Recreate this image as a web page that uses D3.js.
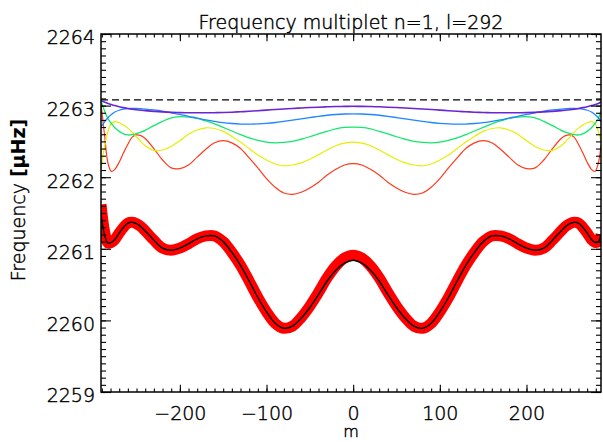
<!DOCTYPE html>
<html><head><meta charset="utf-8">
<script src="https://cdn.jsdelivr.net/npm/d3@7"></script>
<style>
html,body{margin:0;padding:0;background:#fff;}
svg{display:block;}
text{font-family:"DejaVu Sans",sans-serif;fill:#000;}
</style></head>
<body>
<svg id="chart" width="603" height="442"></svg>
<script>
// ---- data ----
const titleText = "Frequency multiplet n=1, l=292";
const xLabel = "m";
const xTickValues = [-200, -100, 0, 100, 200];
const yTickValues = [2259, 2260, 2261, 2262, 2263, 2264];
const xDomain = [-291, 286];
const yDomain = [2259, 2264];
const refLevel = 2263.08;

const mGrid = [-291,-287,-283,-279,-275,-270,-265,-260,-255,-250,-245,-240,-230,-220,-210,-200,-190,-180,-170,-160,-150,-140,-130,-120,-110,-100,-90,-80,-70,-60,-50,-40,-30,-20,-10,
  0,
  10,20,30,40,50,60,70,80,90,100,110,120,130,140,150,160,170,180,190,200,210,220,230,240,245,250,255,260,265,270,275,279,283,286];

const purple = [2263.07,2263.05,2263.03,2263.015,2263.0,2262.985,2262.972,2262.96,2262.95,2262.942,2262.935,2262.93,2262.92,2262.912,2262.906,2262.902,2262.9,2262.9,2262.9,2262.901,2262.904,2262.908,2262.914,2262.921,2262.929,2262.937,2262.945,2262.953,2262.96,2262.967,2262.973,2262.978,2262.983,2262.987,2262.989,
  2262.99,
  2262.989,2262.987,2262.983,2262.978,2262.973,2262.967,2262.96,2262.953,2262.945,2262.937,2262.929,2262.921,2262.914,2262.908,2262.904,2262.901,2262.9,2262.9,2262.9,2262.902,2262.906,2262.912,2262.92,2262.93,2262.935,2262.942,2262.95,2262.96,2262.972,2262.985,2263.0,2263.015,2263.03,2263.05];

const blue = [2262.70,2262.77,2262.83,2262.875,2262.91,2262.935,2262.95,2262.958,2262.96,2262.96,2262.956,2262.952,2262.94,2262.923,2262.90,2262.877,2262.85,2262.826,2262.80,2262.78,2262.762,2262.75,2262.742,2262.74,2262.744,2262.752,2262.764,2262.78,2262.797,2262.815,2262.833,2262.85,2262.865,2262.876,2262.883,
  2262.885,
  2262.883,2262.876,2262.865,2262.85,2262.833,2262.815,2262.797,2262.78,2262.764,2262.752,2262.744,2262.74,2262.742,2262.75,2262.762,2262.78,2262.80,2262.826,2262.85,2262.877,2262.90,2262.923,2262.94,2262.952,2262.956,2262.96,2262.96,2262.958,2262.95,2262.935,2262.91,2262.875,2262.83,2262.77];

const green = [2263.07,2262.93,2262.82,2262.75,2262.69,2262.64,2262.605,2262.59,2262.595,2262.61,2262.63,2262.655,2262.72,2262.78,2262.83,2262.845,2262.84,2262.82,2262.785,2262.745,2262.695,2262.645,2262.595,2262.55,2262.515,2262.49,2262.48,2262.485,2262.50,2262.53,2262.565,2262.605,2262.64,2262.675,2262.695,
  2262.70,
  2262.695,2262.675,2262.64,2262.605,2262.565,2262.53,2262.50,2262.485,2262.48,2262.49,2262.515,2262.55,2262.595,2262.645,2262.695,2262.745,2262.785,2262.82,2262.84,2262.845,2262.83,2262.78,2262.72,2262.655,2262.63,2262.61,2262.595,2262.59,2262.605,2262.64,2262.69,2262.75,2262.82,2262.93];

const yellow = [2262.12,2262.42,2262.64,2262.75,2262.775,2262.76,2262.73,2262.685,2262.625,2262.56,2262.495,2262.44,2262.375,2262.38,2262.43,2262.51,2262.60,2262.66,2262.69,2262.68,2262.64,2262.57,2262.49,2262.40,2262.31,2262.24,2262.185,2262.16,2262.17,2262.20,2262.25,2262.315,2262.38,2262.44,2262.475,
  2262.49,
  2262.475,2262.44,2262.38,2262.315,2262.25,2262.20,2262.17,2262.16,2262.185,2262.24,2262.31,2262.40,2262.49,2262.57,2262.64,2262.68,2262.69,2262.66,2262.60,2262.51,2262.43,2262.38,2262.375,2262.44,2262.495,2262.56,2262.625,2262.685,2262.73,2262.76,2262.775,2262.75,2262.64,2262.50];

const red = [2263.02,2262.60,2262.20,2262.08,2262.11,2262.21,2262.34,2262.46,2262.56,2262.59,2262.58,2262.54,2262.40,2262.24,2262.13,2262.12,2262.17,2262.28,2262.39,2262.48,2262.51,2262.48,2262.40,2262.27,2262.13,2261.98,2261.86,2261.78,2261.76,2261.79,2261.85,2261.93,2262.03,2262.11,2262.17,
  2262.19,
  2262.17,2262.11,2262.03,2261.93,2261.85,2261.79,2261.76,2261.78,2261.86,2261.98,2262.13,2262.27,2262.40,2262.48,2262.51,2262.48,2262.39,2262.28,2262.17,2262.12,2262.13,2262.24,2262.40,2262.54,2262.58,2262.59,2262.56,2262.46,2262.34,2262.21,2262.11,2262.08,2262.20,2262.45];

const observed = [2261.62,2261.25,2261.08,2261.09,2261.13,2261.22,2261.30,2261.36,2261.37,2261.35,2261.31,2261.25,2261.12,2261.01,2260.98,2261.01,2261.07,2261.14,2261.18,2261.18,2261.10,2260.95,2260.77,2260.55,2260.32,2260.12,2259.96,2259.89,2259.92,2260.04,2260.20,2260.39,2260.595,2260.76,2260.87,
  2260.91,
  2260.87,2260.76,2260.595,2260.39,2260.20,2260.04,2259.92,2259.89,2259.96,2260.12,2260.32,2260.55,2260.77,2260.95,2261.10,2261.18,2261.18,2261.14,2261.07,2261.01,2260.98,2261.01,2261.12,2261.25,2261.31,2261.35,2261.37,2261.36,2261.30,2261.22,2261.13,2261.09,2261.10,2261.20];

const model = [2261.50,2261.20,2261.08,2261.09,2261.13,2261.22,2261.30,2261.36,2261.37,2261.35,2261.31,2261.25,2261.12,2261.01,2260.98,2261.01,2261.07,2261.14,2261.18,2261.18,2261.10,2260.95,2260.77,2260.55,2260.32,2260.12,2259.96,2259.89,2259.92,2260.03,2260.18,2260.36,2260.55,2260.70,2260.80,
  2260.84,
  2260.80,2260.70,2260.55,2260.36,2260.18,2260.03,2259.92,2259.89,2259.96,2260.12,2260.32,2260.55,2260.77,2260.95,2261.10,2261.18,2261.18,2261.14,2261.07,2261.01,2260.98,2261.01,2261.12,2261.25,2261.31,2261.35,2261.37,2261.36,2261.30,2261.22,2261.13,2261.09,2261.10,2261.20];

const thinSeries = [
  {values: red,    color: "#ff3a1c", width: 1.2},
  {values: yellow, color: "#e4f000", width: 1.2},
  {values: green,  color: "#12e86a", width: 1.3},
  {values: blue,   color: "#1e86ff", width: 1.3},
  {values: purple, color: "#6a26d2", width: 1.6}
];

// ---- layout ----
const M = {left: 101, right: 601, top: 34, bottom: 392};
const FONT = "DejaVu Sans, sans-serif";
const FW = 200;
const TSTROKE = 0.45;
const svg = d3.select("#chart");
const x = d3.scaleLinear().domain(xDomain).range([M.left, M.right]);
const y = d3.scaleLinear().domain(yDomain).range([M.bottom, M.top]);

svg.append("defs").append("clipPath").attr("id", "clip")
  .append("rect").attr("x", M.left).attr("y", M.top)
  .attr("width", M.right - M.left).attr("height", M.bottom - M.top);

const plot = svg.append("g").attr("clip-path", "url(#clip)");

const line = vals => d3.line()
  .x((d, i) => x(mGrid[i]))
  .y(d => y(d))
  .curve(d3.curveCatmullRom.alpha(0.5))(vals);

// reference dashed level
plot.append("path")
  .attr("d", d3.line()([[x(xDomain[0]), y(refLevel)], [x(xDomain[1]), y(refLevel)]]))
  .attr("stroke", "#000").attr("stroke-width", 1.3).attr("stroke-dasharray", "7,4").attr("fill", "none");

thinSeries.forEach(s => {
  plot.append("path").attr("d", line(s.values))
    .attr("fill", "none").attr("stroke", s.color).attr("stroke-width", s.width);
});

// thick red observed band
plot.append("path").attr("d", line(observed))
  .attr("fill", "none").attr("stroke", "#ff0000").attr("stroke-width", 11)
  .attr("stroke-linejoin", "round");
// black model curve
plot.append("path").attr("d", line(model))
  .attr("fill", "none").attr("stroke", "#000").attr("stroke-width", 1.4);

// ---- axes ----
const xMinor = d3.range(-290, 287, 10);
const yMinor = d3.range(2259, 2264.001, 0.1).map(v => +v.toFixed(1));
const fs = 19;

function darkText(sel) {
  sel.attr("font-family", FONT).attr("font-weight", FW).attr("fill", "#000")
     .attr("stroke", "#000").attr("stroke-width", TSTROKE);
}
function styleAxis(g) {
  g.select(".domain").remove();
  g.selectAll("line").attr("stroke", "#000").attr("stroke-width", 1.1);
  g.selectAll("text").attr("font-size", fs).call(darkText);
}

// bottom
svg.append("g").attr("transform", `translate(0,${M.bottom})`)
  .call(d3.axisBottom(x).tickValues(xMinor).tickSize(-3.6).tickFormat(""))
  .call(styleAxis);
svg.append("g").attr("transform", `translate(0,${M.bottom})`)
  .call(d3.axisBottom(x).tickValues(xTickValues).tickSize(-7.2).tickPadding(14.5))
  .call(styleAxis);
// top
svg.append("g").attr("transform", `translate(0,${M.top})`)
  .call(d3.axisTop(x).tickValues(xMinor).tickSize(-3.6).tickFormat(""))
  .call(styleAxis);
svg.append("g").attr("transform", `translate(0,${M.top})`)
  .call(d3.axisTop(x).tickValues(xTickValues).tickSize(-7.2).tickFormat(""))
  .call(styleAxis);
// left
svg.append("g").attr("transform", `translate(${M.left},0)`)
  .call(d3.axisLeft(y).tickValues(yMinor).tickSize(-5).tickFormat(""))
  .call(styleAxis);
const yl = svg.append("g").attr("transform", `translate(${M.left},0)`)
  .call(d3.axisLeft(y).tickValues(yTickValues).tickSize(-10).tickPadding(6).tickFormat(d3.format("d")))
  .call(styleAxis);
yl.selectAll("text").attr("dy", "0.52em");
// right
svg.append("g").attr("transform", `translate(${M.right},0)`)
  .call(d3.axisRight(y).tickValues(yMinor).tickSize(-5).tickFormat(""))
  .call(styleAxis);
svg.append("g").attr("transform", `translate(${M.right},0)`)
  .call(d3.axisRight(y).tickValues(yTickValues).tickSize(-10).tickFormat(""))
  .call(styleAxis);

// frame
svg.append("rect").attr("x", M.left).attr("y", M.top)
  .attr("width", M.right - M.left).attr("height", M.bottom - M.top)
  .attr("fill", "none").attr("stroke", "#000").attr("stroke-width", 1.5);

// titles
svg.append("text").attr("x", (M.left + M.right) / 2).attr("y", 29)
  .attr("text-anchor", "middle").attr("font-size", 19).call(darkText).text(titleText);
svg.append("text").attr("x", (M.left + M.right) / 2).attr("y", 437)
  .attr("text-anchor", "middle").attr("font-size", 16).call(darkText).text(xLabel);
const yt = svg.append("text").attr("transform", "translate(25,200) rotate(-90)")
  .attr("text-anchor", "middle").attr("font-size", 19).call(darkText);
yt.append("tspan").text("Frequency ");
yt.append("tspan").attr("font-weight", "bold").attr("stroke-width", 0).text("[μHz]");
</script>
</body></html>
